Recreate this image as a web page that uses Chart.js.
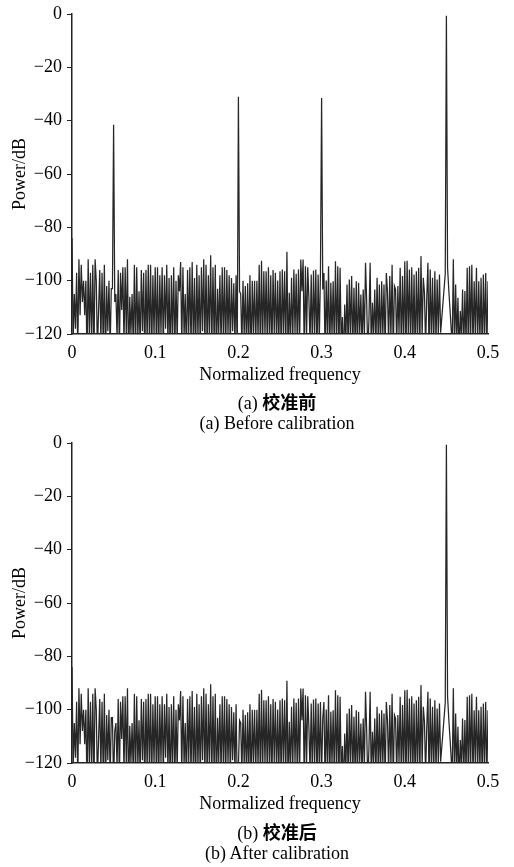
<!DOCTYPE html>
<html>
<head>
<meta charset="utf-8">
<script src="https://cdn.jsdelivr.net/npm/chart.js@4.4.0/dist/chart.umd.min.js"></script>
<style>
  body { margin:0; background:#fff; width:514px; height:867px; position:relative; overflow:hidden;
         font-family:"Liberation Serif","Times New Roman",serif; }
  .panel { position:absolute; left:0; width:514px; height:390px; }
  .cap { position:absolute; left:66px; width:422px; text-align:center; font-size:18px; line-height:22px; color:#000; }
  .cap .zh { font-family:"Noto Sans CJK SC", sans-serif; font-weight:bold; }
</style>
</head>
<body>
<div class="panel" style="top:0px"><canvas id="chartA" width="514" height="390"></canvas></div>
<div class="cap" style="top:390px">(a) <span class="zh">校准前</span></div>
<div class="cap" style="top:412px">(a) Before calibration</div>
<div class="panel" style="top:429px"><canvas id="chartB" width="514" height="390"></canvas></div>
<div class="cap" style="top:820px">(b) <span class="zh">校准后</span></div>
<div class="cap" style="top:842px">(b) After calibration</div>

<script>
// spectrum bins from 0 to 0.5 (361 bins), power in dB
const freqMax = 0.5;
const noiseDb = [
  -84, -122, -105, -118, -97, -126, -92, -113, -94, -108,
  -100, -113, -100, -130, -92, -121, -97, -124, -94, -128,
  -92, -100, -127, -111, -96, -123, -97, -125, -94, -131,
  -102, -119, -100, -126, -103, -103, -129, -108, -105, -122,
  -96, -127, -97, -111, -95, -124, -95, -121, -92, -133,
  -106, -120, -105, -125, -94, -128, -95, -122, -104, -126,
  -96, -119, -97, -130, -96, -123, -94, -124, -94, -127,
  -98, -121, -95, -125, -95, -129, -98, -120, -95, -126,
  -98, -118, -94, -124, -99, -131, -98, -122, -95, -127,
  -100, -123, -98, -104, -93, -125, -95, -121, -105, -129,
  -96, -120, -95, -126, -93, -124, -99, -130, -94, -122,
  -98, -127, -95, -119, -92, -125, -94, -128, -98, -121,
  -90.5, -126, -95, -124, -94, -132, -103, -120, -98, -125,
  -95, -123, -95, -128, -96, -121, -98, -126, -99, -119,
  -101, -124, -98, -129, -122, -104, -105, -125, -100, -121,
  -102, -127, -101, -123, -98, -130, -100, -120, -100, -125,
  -100, -122, -94, -128, -92.5, -124, -96.5, -121, -96.5, -126,
  -95, -123, -98, -127, -96, -120, -97, -125, -99.9, -124,
  -96.5, -128, -95.8, -121, -96.5, -126, -89.2, -130, -104.5, -122,
  -98.9, -125, -95.8, -120, -97.4, -127, -95.8, -123, -92.1, -104,
  -92.1, -129, -94.6, -121, -95, -106.4, -124, -97.7, -126, -96.2,
  -120, -95.8, -128, -97.7, -123, -97.1, -125, -103.3, -97.1, -127,
  -99.9, -122, -94.6, -130, -100.8, -121, -100.2, -126, -92.7, -124,
  -94.6, -128, -95.2, -125, -113.6, -131, -108.9, -123, -101.4, -127,
  -99.6, -121, -98.3, -126, -102.7, -124, -100.2, -129, -100.8, -120,
  -105.2, -125, -103.3, -122, -93.3, -107.7, -128, -113.9, -93.3, -127,
  -108.3, -121, -103.3, -125, -98.9, -123, -101.4, -126, -100.2, -121,
  -101.4, -127, -97.1, -103.9, -124, -98.3, -122, -94, -128, -102,
  -103.3, -125, -102, -120, -95.2, -127, -98.3, -123, -92.7, -129,
  -92.5, -121, -95.8, -126, -95, -124, -97.7, -130, -96.5, -122,
  -95.2, -127, -90.8, -121, -98.9, -104.5, -125, -106.4, -93.3, -128,
  -95.8, -122, -98.9, -126, -96.5, -124, -99.6, -121, -97.7, -119.5,
  -114, -108.5, -103, -97.5, -0.7, -95, -103, -110, -117, -125,
  -92, -126, -101.4, -123, -106.4, -128, -111.4, -121, -103.3, -127,
  -103.9, -124, -95.2, -129, -94.6, -122, -94, -126, -100.2, -121,
  -95.2, -125, -100.2, -123, -98.9, -128, -97.7, -122, -97.1, -126,
  -100.2
];
// spurs that are only there before calibration
const spurFreq = [0.05, 0.2, 0.3];
const spurDb = [-41.5, -31, -31.5];

const xTicks = [0, 0.1, 0.2, 0.3, 0.4, 0.5];
const yTicks = [0, -20, -40, -60, -80, -100, -120];

const freqStep = freqMax / (noiseDb.length - 1);

function buildPoints(values, sf, sv) {
  let pts = values.map((v, i) => ({ x: i * freqStep, y: v }));
  for (let k = 0; k < sf.length; k++) {
    pts[Math.round(sf[k] / freqStep)].y = sv[k];
  }
  return pts;
}

const txtFont = { family: 'Liberation Serif', size: 18 };
const tickFont = { family: 'Liberation Serif', size: 18, lineHeight: 1 };

function drawSpectrum(id, points) {
  var ctx = document.getElementById(id).getContext('2d');
  return new Chart(ctx, {
    type: 'line',
    data: {
      datasets: [{
        data: points,
        borderColor: '#262626',
        borderWidth: 1.25,
        pointRadius: 0,
        tension: 0,
        fill: false
      }]
    },
    options: {
      responsive: false,
      animation: false,
      devicePixelRatio: 1,
      layout: { padding: { top: 13, right: 26, bottom: 0, left: 0 } },
      plugins: { legend: { display: false }, tooltip: { enabled: false } },
      scales: {
        x: {
          type: 'linear',
          min: 0,
          max: freqMax,
          afterBuildTicks: (s) => { s.ticks = xTicks.map(v => ({ value: v })); },
          ticks: {
            font: tickFont, color: '#000', padding: 10, maxRotation: 0,
            callback: (v) => v === 0 ? '0' : v.toFixed(1)
          },
          grid: { drawOnChartArea: false, drawTicks: false },
          border: { color: '#222', width: 1.5 },
          title: { display: true, text: 'Normalized frequency', font: txtFont, color: '#000',
                   padding: { top: 4, bottom: 4 } },
          afterFit: (s) => { s.height = 56; }
        },
        y: {
          min: -120,
          max: 0,
          afterBuildTicks: (s) => { s.ticks = yTicks.map(v => ({ value: v })); },
          ticks: {
            font: tickFont, color: '#000', padding: 5,
            callback: (v) => v < 0 ? '\u2212' + Math.abs(v) : String(v)
          },
          grid: { drawOnChartArea: false, drawTicks: true, tickLength: 5, color: '#222' },
          border: { color: '#222', width: 1.5 },
          title: { display: true, text: 'Power/dB', font: txtFont, color: '#000',
                   padding: { top: 9, bottom: 9 } },
          afterFit: (s) => { s.width = 72; }
        }
      }
    }
  });
}

drawSpectrum('chartA', buildPoints(noiseDb, spurFreq, spurDb));
drawSpectrum('chartB', buildPoints(noiseDb, [], []));
</script>
</body>
</html>
